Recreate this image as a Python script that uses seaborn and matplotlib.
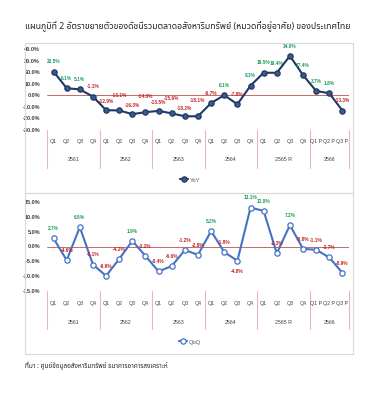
import matplotlib
matplotlib.use("Agg")
import matplotlib.pyplot as plt
import matplotlib.patches as mpatches
import seaborn as sns
import pandas as pd

# ข้อมูล
quarters = ["Q1", "Q2", "Q3", "Q4"] * 5 + ["Q1 P", "Q2 P", "Q3 P"]
years = ["2561", "2562", "2563", "2564", "2565 R", "2566"]
year_sizes = [4, 4, 4, 4, 4, 3]

yoy = [20.5, 6.1, 5.1, -1.1, -12.9, -13.1, -16.3, -14.6, -13.5, -15.6, -18.2, -18.1,
       -6.7, 0.1, -7.8, 8.3, 19.5, 19.4, 34.0, 17.4, 3.7, 1.8, -13.3]
qoq = [2.7, -4.6, 6.5, -6.1, -9.9, -4.2, 1.9, -3.2, -8.4, -6.6, -1.2, -2.8,
       5.2, -1.9, -4.8, 13.1, 12.0, -2.3, 7.2, -0.8, -1.1, -3.7, -8.9]

df = pd.DataFrame({"pos": range(len(quarters)), "q": quarters, "YoY": yoy, "QoQ": qoq})

title = "แผนภูมิที่ 2 อัตราขยายตัวของดัชนีรวมตลาดอสังหาริมทรัพย์ (หมวดที่อยู่อาศัย) ของประเทศไทย"
source = "ที่มา : ศูนย์ข้อมูลอสังหาริมทรัพย์ ธนาคารอาคารสงเคราะห์"

sns.set_style("white")
plt.rcParams["font.family"] = ["Liberation Sans Narrow", "Liberation Sans", "DejaVu Sans"]
thai = ["Noto Sans Thai", "DejaVu Sans"]

W, H = 383, 404
fig = plt.figure(figsize=(W / 100, H / 100), dpi=100)


def px(x0, y0, x1, y1):
    return [x0 / W, 1 - y1 / H, (x1 - x0) / W, (y1 - y0) / H]


# กรอบของแต่ละกราฟ
for y0, y1 in [(43, 193), (193, 354)]:
    fig.patches.append(mpatches.Rectangle((25 / W, 1 - y1 / H), 328 / W, (y1 - y0) / H,
                                          transform=fig.transFigure, fill=False,
                                          edgecolor="#d9d9d9", linewidth=0.8))

green = "#1a9a5a"
red = "#c0201f"


def draw(ax, col, ylim, step, color, face, offs, q_y, yr_y, sep_bot, leg_y):
    sns.lineplot(data=df, x="pos", y=col, ax=ax, color=color, linewidth=1.5,
                 marker="o", markersize=3.8, markerfacecolor=face,
                 markeredgecolor=color, markeredgewidth=0.9, label=col)
    ax.axhline(0, color="#c0504d", linewidth=0.6, zorder=0)
    ax.set_xlim(-0.5, len(df) - 0.5)
    ax.set_ylim(*ylim)
    ticks = list(range(ylim[0], ylim[1] + 1, step))
    ax.set_yticks(ticks)
    ax.set_yticklabels([f"{t:.1f}%" for t in ticks], fontsize=4, fontweight="bold",
                       color="#404040")
    ax.tick_params(axis="y", length=0, pad=5)
    ax.set_xticks([])
    ax.set_xlabel("")
    ax.set_ylabel("")
    for s in ax.spines.values():
        s.set_visible(False)

    for i, v in enumerate(df[col]):
        dy = offs.get(i, 7)
        ax.annotate(f"{v:.1f}%", (i, v), xytext=(0, dy), textcoords="offset points",
                    ha="center", va="center", fontsize=3.4, fontweight="bold",
                    color=green if v > 0 else red)

    # ป้ายไตรมาสและปี
    tr = ax.get_xaxis_transform()
    bot = ax.get_position().y0
    hgt = ax.get_position().height
    qy = (1 - q_y / H - bot) / hgt
    yy = (1 - yr_y / H - bot) / hgt
    sb = (1 - sep_bot / H - bot) / hgt
    for i, q in enumerate(df["q"]):
        ax.text(i, qy, q, transform=tr, ha="center", va="center", fontsize=3.8,
                color="#404040", clip_on=False)
    start = -0.5
    for yr, n in zip(years, year_sizes):
        ax.plot([start, start], [0, sb], transform=tr, color="#e6b8b7", linewidth=0.8,
                clip_on=False)
        ax.text(start + n / 2, yy, yr, transform=tr, ha="center", va="center",
                fontsize=3.8, color="#404040", clip_on=False)
        start += n
    ax.plot([start, start], [0, sb], transform=tr, color="#e6b8b7", linewidth=0.8,
            clip_on=False)

    leg = ax.legend(loc="center", bbox_to_anchor=(190 / W, 1 - leg_y / H),
                    bbox_transform=fig.transFigure, frameon=False, fontsize=4.2,
                    handlelength=1.4, handletextpad=0.3)
    for t in leg.get_texts():
        t.set_color("#595959")


# ป้ายช่วงติดลบที่แน่น วางสลับสูงต่ำ
yoy_offs = {4: 6, 5: 11, 6: 6, 7: 11, 8: 6, 9: 11, 10: 6, 11: 11}
ax1 = fig.add_axes(px(47, 49, 349, 130))
draw(ax1, "YoY", (-30, 40), 10, "#1f3864", "#3b5a8c", yoy_offs, 142, 160, 168, 180)

ax2 = fig.add_axes(px(47, 202, 349, 291))
draw(ax2, "QoQ", (-15, 15), 5, "#4472c4", "#ffffff", {14: -8}, 303, 323, 329, 342)

fig.text(25 / W, 1 - 27 / H, title, family=thai, fontsize=6.3, fontweight="bold",
         color="#262626", va="center", ha="left")
fig.text(25 / W, 1 - 366 / H, source, family=thai, fontsize=4.6, color="#262626",
         va="center", ha="left")

fig.savefig("out.png", dpi=100, facecolor="white")
